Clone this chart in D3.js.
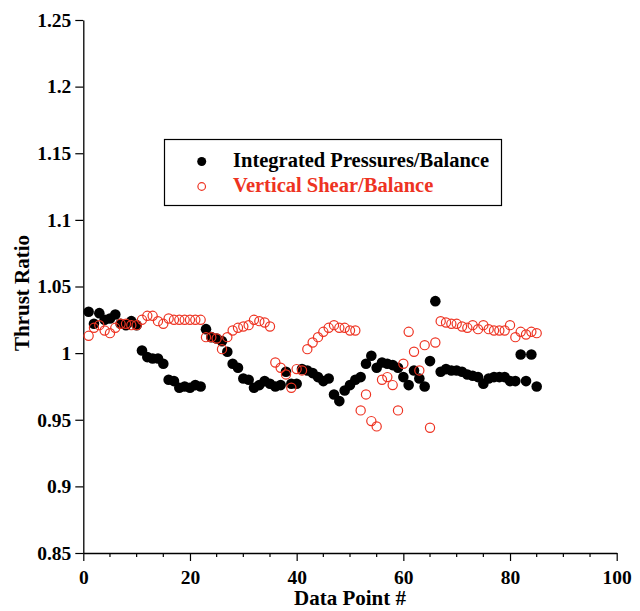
<!DOCTYPE html>
<html>
<head>
<meta charset="utf-8">
<script src="https://cdn.jsdelivr.net/npm/d3@7"></script>
<style>
  html, body { margin: 0; padding: 0; background: #fff; }
  svg { display: block; }
  text { font-family: "Liberation Serif", "Times New Roman", serif; font-weight: bold; }
</style>
</head>
<body>
<svg id="chart" width="640" height="611"></svg>
<script>
// Thrust ratio per data point, two measurement methods
const pointIds = d3.range(1, 86);

const pressureBalance = [
  1.031, 1.022, 1.030, 1.025, 1.026, 1.029, 1.022, 1.021, 1.024, 1.021,
  1.002, 0.997, 0.996, 0.996, 0.992, 0.980, 0.979, 0.974, 0.975, 0.974,
  0.976, 0.975, 1.018, 1.012, 1.011, 1.009, 1.001, 0.992, 0.989, 0.981,
  0.980, 0.974, 0.976, 0.979, 0.977, 0.975, 0.976, 0.986, 0.977, 0.977,
  0.988, 0.987, 0.985, 0.982, 0.979, 0.981, 0.969, 0.964, 0.972, 0.976,
  0.980, 0.982, 0.992, 0.998, 0.989, 0.993, 0.992, 0.991, 0.989, 0.982,
  0.976, 0.987, 0.981, 0.975, 0.994, 1.039, 0.986, 0.988, 0.987, 0.987,
  0.986, 0.984, 0.983, 0.982, 0.977, 0.981, 0.982, 0.982, 0.982, 0.979,
  0.979, 0.999, 0.979, 0.999, 0.975
];

const shearBalance = [
  1.013, 1.019, 1.021, 1.017, 1.015, 1.019, 1.022, 1.022, 1.021, 1.021,
  1.025, 1.028, 1.028, 1.024, 1.022, 1.026, 1.025, 1.025, 1.025, 1.025,
  1.025, 1.025, 1.012, 1.012, 1.011, 1.003, 1.012, 1.017, 1.019, 1.020,
  1.021, 1.025, 1.024, 1.023, 1.020, 0.993, 0.989, 0.984, 0.974, 0.988,
  0.987, 1.003, 1.008, 1.012, 1.016, 1.019, 1.021, 1.019, 1.019, 1.017,
  1.017, 0.957, 0.969, 0.949, 0.945, 0.980, 0.982, 0.976, 0.957, 0.992,
  1.016, 1.001, 0.987, 1.006, 0.944, 1.008, 1.024, 1.023, 1.022, 1.022,
  1.020, 1.019, 1.021, 1.018, 1.021, 1.018, 1.017, 1.017, 1.017, 1.021,
  1.012, 1.016, 1.014, 1.016, 1.015
];

const xMajorTicks = [0, 20, 40, 60, 80, 100];
const xMinorTicks = d3.range(0, 101, 5).filter(v => v % 20 !== 0);
const yTicks = [0.85, 0.9, 0.95, 1, 1.05, 1.1, 1.15, 1.2, 1.25];

const seriesNames = ["Integrated Pressures/Balance", "Vertical Shear/Balance"];
const red = "#ee3322";

const svg = d3.select("#chart");

const x = d3.scaleLinear().domain([0, 100]).range([83.3, 616.7]);
const y = d3.scaleLinear().domain([0.85, 1.25]).range([553, 20]);

// Y axis
const yAxis = svg.append("g")
  .attr("transform", `translate(${x(0)},0)`)
  .call(d3.axisLeft(y).tickValues(yTicks).tickSize(8).tickSizeOuter(0)
    .tickFormat(d => d3.format("")(+d.toFixed(2))));
yAxis.select(".domain").attr("stroke", "#000").attr("stroke-width", 1.3);
yAxis.selectAll(".tick line").attr("stroke", "#000").attr("stroke-width", 1.2);
yAxis.selectAll(".tick text")
  .attr("x", -12).attr("fill", "#000")
  .style("font-size", "19.5px").style("font-family", "'Liberation Serif', serif").style("font-weight", "bold");

// X axis: major ticks with labels, minor ticks between
const xAxis = svg.append("g")
  .attr("transform", `translate(0,${y(0.85)})`)
  .call(d3.axisBottom(x).tickValues(xMajorTicks).tickSize(8).tickSizeOuter(0));
xAxis.select(".domain").attr("stroke", "#000").attr("stroke-width", 1.3);
xAxis.selectAll(".tick line").attr("stroke", "#000").attr("stroke-width", 1.2);
xAxis.selectAll(".tick text")
  .attr("y", 17).attr("fill", "#000")
  .style("font-size", "19.5px").style("font-family", "'Liberation Serif', serif").style("font-weight", "bold");

svg.append("g").selectAll("line")
  .data(xMinorTicks).join("line")
  .attr("x1", d => x(d)).attr("x2", d => x(d))
  .attr("y1", y(0.85)).attr("y2", y(0.85) + 4)
  .attr("stroke", "#000").attr("stroke-width", 1.2);

// Axis titles
svg.append("text")
  .attr("x", (x(0) + x(100)) / 2).attr("y", 605)
  .attr("text-anchor", "middle").attr("font-size", 21)
  .text("Data Point #");

svg.append("text")
  .attr("transform", "translate(29,293) rotate(-90)")
  .attr("text-anchor", "middle").attr("font-size", 21)
  .text("Thrust Ratio");

// Filled black markers
svg.append("g").selectAll("circle")
  .data(pointIds.map((id, i) => [id, pressureBalance[i]])).join("circle")
  .attr("cx", d => x(d[0])).attr("cy", d => y(d[1]))
  .attr("r", 5.3).attr("fill", "#000");

// Open red markers
svg.append("g").selectAll("circle")
  .data(pointIds.map((id, i) => [id, shearBalance[i]])).join("circle")
  .attr("cx", d => x(d[0])).attr("cy", d => y(d[1]))
  .attr("r", 4.6).attr("fill", "none").attr("stroke", red).attr("stroke-width", 1.2);

// Legend
const legend = svg.append("g");
legend.append("rect")
  .attr("x", 164.5).attr("y", 139.5).attr("width", 337).attr("height", 66)
  .attr("fill", "#fff").attr("stroke", "#000").attr("stroke-width", 1.2);
legend.append("circle").attr("cx", 201.7).attr("cy", 161.5).attr("r", 4.5).attr("fill", "#000");
legend.append("circle").attr("cx", 201.7).attr("cy", 186.5).attr("r", 3.8)
  .attr("fill", "none").attr("stroke", red).attr("stroke-width", 1.2);
legend.append("text").attr("x", 233).attr("y", 167).attr("font-size", 20.5)
  .attr("fill", "#000").text(seriesNames[0]);
legend.append("text").attr("x", 233).attr("y", 192).attr("font-size", 20.5)
  .attr("fill", red).text(seriesNames[1]);
</script>
</body>
</html>
